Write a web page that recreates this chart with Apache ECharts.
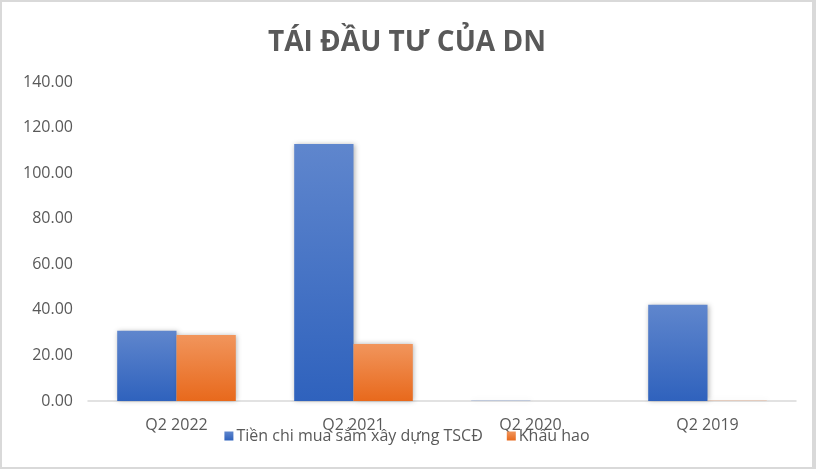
<!DOCTYPE html>
<html><head><meta charset="utf-8">
<script src="https://cdn.jsdelivr.net/npm/echarts@6/dist/echarts.min.js"></script>
<style>
html,body{margin:0;padding:0;background:#fff;}
#c{width:816px;height:469px;box-sizing:border-box;border:2px solid #d9d9d9;border-right-width:4px;}
</style></head><body>
<div id="c"></div>
<script>
const categories = ["Q2 2022", "Q2 2021", "Q2 2020", "Q2 2019"];
const capexValues = [30.8, 112.8, 0.1, 42.2];
const depreciationValues = [29.0, 25.0, 0.0, 0.1];
const seriesNames = ["Tiền chi mua sắm xây dựng TSCĐ", "Khấu hao"];

const chart = echarts.init(document.getElementById('c'));
const font = "'Open Sans', 'Noto Sans', sans-serif";
const grad = (a, b) => new echarts.graphic.LinearGradient(0, 0, 0, 1, [{offset: 0, color: a}, {offset: 1, color: b}]);
chart.setOption({
  animation: false,
  title: {
    text: "TÁI ĐẦU TƯ CỦA DN",
    left: 'center', top: 22,
    textStyle: {fontFamily: font, fontWeight: 'bold', fontSize: 28, color: '#595959'}
  },
  legend: {
    bottom: 18, left: 'center', itemWidth: 9, itemHeight: 9, itemGap: 24,
    icon: 'rect',
    textStyle: {fontFamily: font, fontSize: 16, color: '#595959', padding: [0, 0, 0, -2]},
    data: seriesNames
  },
  grid: {left: 86, right: 16, top: 80, bottom: 66},
  xAxis: {
    type: 'category', data: categories,
    axisLine: {lineStyle: {color: '#d9d9d9', width: 1.5}},
    axisTick: {show: false},
    axisLabel: {fontFamily: font, fontSize: 16, color: '#595959', margin: 16}
  },
  yAxis: {
    type: 'value', min: 0, max: 140, interval: 20,
    axisLine: {show: false}, axisTick: {show: false},
    splitLine: {show: false},
    axisLabel: {fontFamily: font, fontSize: 16, color: '#595959', margin: 15,
      formatter: v => v.toFixed(2)}
  },
  series: [
    {name: seriesNames[0], type: 'bar', data: capexValues, barGap: '0%', barCategoryGap: '33%',
      itemStyle: {color: grad('#5f86cd', '#2f62bd'), shadowColor: 'rgba(0,0,0,0.3)', shadowBlur: 5, shadowOffsetX: 1}},
    {name: seriesNames[1], type: 'bar', data: depreciationValues,
      itemStyle: {color: grad('#f1955c', '#e8691c'), shadowColor: 'rgba(0,0,0,0.3)', shadowBlur: 5, shadowOffsetX: 1}}
  ]
});
</script></body></html>
